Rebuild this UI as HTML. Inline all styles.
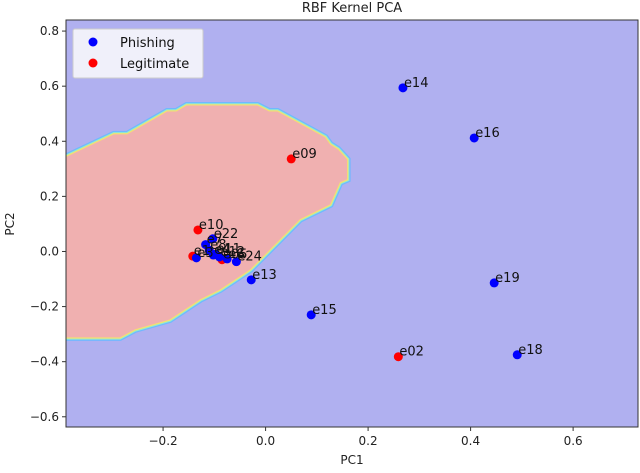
<!DOCTYPE html>
<html><head><meta charset="utf-8">
<style>
body{margin:0;background:#fff;font-family:"Liberation Sans","DejaVu Sans",sans-serif;}
svg text{font-family:"DejaVu Sans","Liberation Sans",sans-serif;}
</style></head>
<body>
<svg id="chart" width="640" height="468" viewBox="0 0 640 468" xmlns="http://www.w3.org/2000/svg">
<defs><clipPath id="plotclip"><rect x="66" y="20" width="572" height="407"/></clipPath></defs>
<text x="352" y="12" font-size="13" text-anchor="middle" fill="#222">RBF Kernel PCA</text>
<rect x="66" y="20" width="572" height="407" fill="#b0b0f0"/>
<g id="region" clip-path="url(#plotclip)"></g>
<g id="points"></g>
<rect x="66" y="20" width="572" height="407" fill="none" stroke="#333" stroke-width="1"/>
<g id="axes"></g>
<g>
<rect x="73" y="29" width="130" height="49" rx="2" fill="#f0f0fa" stroke="#ccc"/>
<circle cx="93" cy="42" r="4.5" fill="#0000ff"/>
<text x="120" y="47" font-size="13" fill="#111">Phishing</text>
<circle cx="93" cy="63" r="4.5" fill="#ff0000"/>
<text x="120" y="68" font-size="13" fill="#111">Legitimate</text>
</g>
<text x="352" y="464" font-size="12" text-anchor="middle" fill="#222">PC1</text>
<text x="14" y="224" font-size="12" text-anchor="middle" fill="#222" transform="rotate(-90 14 224)">PC2</text>
</svg>
<script>
const xTicks=[-0.2,0.0,0.2,0.4,0.6];
const xTickLabels=["\u22120.2","0.0","0.2","0.4","0.6"];
const yTicks=[0.8,0.6,0.4,0.2,0.0,-0.2,-0.4,-0.6];
const yTickLabels=["0.8","0.6","0.4","0.2","0.0","\u22120.2","\u22120.4","\u22120.6"];
const labels=["e14","e16","e09","e19","e15","e02","e18","e13","e10","e22","e7","e24","e1","e05","e3","e4","e8","e6","e11","e12"];
const pcX=[0.268,0.407,0.050,0.446,0.089,0.259,0.491,-0.028,-0.132,-0.103,-0.117,-0.057,-0.142,-0.085,-0.135,-0.102,-0.110,-0.075,-0.098,-0.090];
const pcY=[0.594,0.412,0.336,-0.114,-0.230,-0.382,-0.375,-0.103,0.078,0.046,0.025,-0.037,-0.017,-0.030,-0.023,-0.013,0.005,-0.027,-0.010,-0.020];
const cls=[0,0,1,0,0,1,0,0,1,0,0,0,1,1,0,0,0,0,0,0];
const boundaryX=[-0.40,-0.296,-0.270,-0.192,-0.174,-0.154,-0.016,0.007,0.023,0.116,0.126,0.141,0.159,0.159,0.145,0.126,0.067,-0.030,-0.089,-0.128,-0.187,-0.255,-0.284,-0.40];
const boundaryY=[0.334,0.425,0.425,0.508,0.508,0.530,0.530,0.508,0.508,0.414,0.388,0.370,0.334,0.262,0.251,0.171,0.117,-0.065,-0.138,-0.174,-0.247,-0.283,-0.312,-0.312];
const L=66,R=638,T=20,B=427,X0=-0.3894,X1=0.7266,Y0=-0.6371,Y1=0.8402;
const sx=v=>L+(v-X0)/(X1-X0)*(R-L);
const sy=v=>B-(v-Y0)/(Y1-Y0)*(B-T);
const NS="http://www.w3.org/2000/svg";
function mk(tag,attrs,parent){const e=document.createElementNS(NS,tag);for(const k in attrs)e.setAttribute(k,attrs[k]);parent.appendChild(e);return e;}
const reg=document.getElementById('region');
const pts=boundaryX.map((x,i)=>sx(x).toFixed(1)+','+sy(boundaryY[i]).toFixed(1)).join(' ');
let p1=mk('polygon',{points:pts,fill:'none',stroke:'#70b8ff','stroke-width':7,'stroke-linejoin':'miter'},reg);


let p2=mk('polygon',{points:pts,fill:'none',stroke:'#90ecd0','stroke-width':4.5},reg);


let p3=mk('polygon',{points:pts,fill:'none',stroke:'#f5e070','stroke-width':2.5},reg);


let p4=mk('polygon',{points:pts,fill:'#f0b0b0'},reg);


const pg=document.getElementById('points');
labels.forEach((lb,i)=>{
 const c=mk('circle',{cx:sx(pcX[i]),cy:sy(pcY[i]),r:4.5,fill:cls[i]?'#ff0000':'#0000ff'},pg);
 
 
});
labels.forEach((lb,i)=>{
 const t=mk('text',{x:sx(pcX[i])+1,y:sy(pcY[i])-1,'font-size':13,fill:'#111'},pg);
 t.textContent=lb;
 
 
});
const ax=document.getElementById('axes');
xTicks.forEach((v,i)=>{
 const l=mk('line',{x1:sx(v),x2:sx(v),y1:B,y2:B+4,stroke:'#333'},ax);
 
 
 const t=mk('text',{x:sx(v),y:B+18,'font-size':12,'text-anchor':'middle',fill:'#222'},ax);
 t.textContent=xTickLabels[i];
 
 
});
yTicks.forEach((v,i)=>{
 const l=mk('line',{x1:L-4,x2:L,y1:sy(v),y2:sy(v),stroke:'#333'},ax);
 
 
 const t=mk('text',{x:L-7,y:sy(v)+4,'font-size':12,'text-anchor':'end',fill:'#222'},ax);
 t.textContent=yTickLabels[i];
 
 
});
</script>
</body></html>
